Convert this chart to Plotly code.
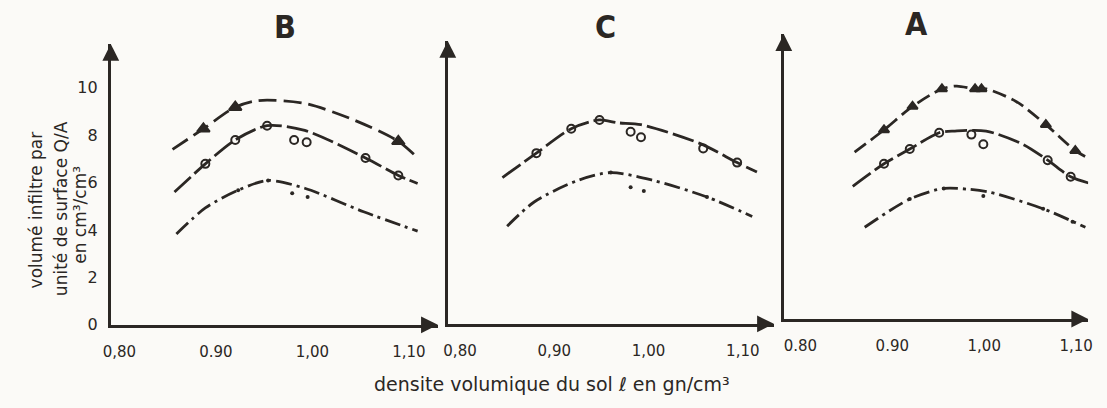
import plotly.graph_objects as go

INK = "#2b2724"
BG = "#fbfaf7"

# ---------------- data ----------------
# Panel B
b_tri_x = [0.855, 0.887, 0.920, 0.944, 0.992, 1.043, 1.089, 1.109]
b_tri_y = [7.40, 8.27, 9.18, 9.46, 9.34, 8.64, 7.74, 7.04]
b_tri_pts_x = [0.887, 0.920, 1.089]
b_tri_pts_y = [8.27, 9.18, 7.74]

b_cir_x = [0.857, 0.889, 0.920, 0.953, 0.992, 1.055, 1.089, 1.109]
b_cir_y = [5.60, 6.79, 7.80, 8.40, 8.20, 7.04, 6.30, 5.96]
b_cir_pts_x = [0.889, 0.920, 0.953, 0.981, 0.994, 1.055, 1.089]
b_cir_pts_y = [6.79, 7.80, 8.40, 7.80, 7.70, 7.04, 6.30]

b_dot_x = [0.859, 0.889, 0.923, 0.954, 0.992, 1.053, 1.109]
b_dot_y = [3.83, 4.93, 5.68, 6.09, 5.76, 4.77, 3.95]
b_dot_pts_x = [0.923, 0.954, 0.979, 0.995]
b_dot_pts_y = [5.68, 6.09, 5.55, 5.39]

# Panel C
c_cir_x = [0.845, 0.881, 0.918, 0.948, 0.967, 0.992, 1.055, 1.094, 1.115]
c_cir_y = [6.17, 7.20, 8.23, 8.60, 8.48, 8.40, 7.60, 6.80, 6.40]
c_cir_pts_x = [0.881, 0.918, 0.948, 0.981, 0.992, 1.058, 1.094]
c_cir_pts_y = [7.20, 8.23, 8.60, 8.10, 7.87, 7.40, 6.80]

c_dot_x = [0.850, 0.879, 0.925, 0.960, 1.005, 1.062, 1.110]
c_dot_y = [4.12, 5.15, 6.05, 6.38, 6.05, 5.35, 4.53]
c_dot_pts_x = [0.960, 0.981, 0.995, 1.062]
c_dot_pts_y = [6.38, 5.76, 5.60, 5.35]

# Panel A
a_tri_x = [0.859, 0.891, 0.922, 0.954, 0.970, 0.990, 1.002, 1.035, 1.067, 1.099, 1.110]
a_tri_y = [7.04, 7.98, 8.97, 9.71, 9.83, 9.71, 9.71, 9.17, 8.20, 7.10, 6.85]
a_tri_pts_x = [0.891, 0.922, 0.954, 0.990, 0.997, 1.067, 1.099]
a_tri_pts_y = [7.98, 8.97, 9.71, 9.71, 9.71, 8.20, 7.10]

a_cir_x = [0.857, 0.891, 0.919, 0.951, 0.968, 1.002, 1.042, 1.069, 1.094, 1.115]
a_cir_y = [5.60, 6.55, 7.17, 7.86, 7.93, 7.93, 7.37, 6.70, 6.00, 5.72]
a_cir_pts_x = [0.891, 0.919, 0.951, 0.986, 0.999, 1.069, 1.094]
a_cir_pts_y = [6.55, 7.17, 7.86, 7.78, 7.37, 6.70, 6.00]

a_dot_x = [0.870, 0.919, 0.956, 0.984, 1.006, 1.064, 1.110]
a_dot_y = [3.87, 5.06, 5.51, 5.47, 5.35, 4.65, 3.87]
a_dot_pts_x = [0.919, 0.956, 0.999, 1.064, 1.096]
a_dot_pts_y = [5.06, 5.51, 5.19, 4.65, 4.10]

y_ticks = [0, 2, 4, 6, 8, 10]
x_ticks = [0.80, 0.90, 1.00, 1.10]
x_labels_b = ["0,80", "0.90", "1,00", "1,10"]
x_labels_c = ["0,80", "0,90", "1,00", "1,10"]
x_labels_a = ["0.80", "0.90", "1,00", "1,10"]
panel_titles = ["B", "C", "A"]
y_title_lines = ["volumé infiltre par", "unité de surface Q/A", "en cm³/cm³"]
x_title = "densite volumique du sol ℓ en gn/cm³"

# ---------------- figure ----------------
W, H = 1107, 408
fig = go.Figure()

def line(x, y, dash, ax):
    fig.add_trace(go.Scatter(x=x, y=y, mode="lines",
                             line=dict(color=INK, width=2.8, dash=dash, shape="spline", smoothing=0.8),
                             xaxis="x" + ax, yaxis="y" + ax, showlegend=False, hoverinfo="skip"))

def pts(x, y, symbol, size, ax, lw=2):
    fig.add_trace(go.Scatter(x=x, y=y, mode="markers",
                             marker=dict(symbol=symbol, size=size, color=INK, line=dict(color=INK, width=lw)),
                             xaxis="x" + ax, yaxis="y" + ax, showlegend=False, hoverinfo="skip"))

# B -> axis "" (x, y)
line(b_tri_x, b_tri_y, "18px,7px", "")
pts(b_tri_pts_x, b_tri_pts_y, "triangle-up", 11, "")
line(b_cir_x, b_cir_y, "22px,5px", "")
pts(b_cir_pts_x, b_cir_pts_y, "circle-open", 8, "")
line(b_dot_x, b_dot_y, "16px,5px,3px,5px", "")
pts(b_dot_pts_x, b_dot_pts_y, "circle", 4, "", 0)

# C -> axis 2
line(c_cir_x, c_cir_y, "22px,5px", "2")
pts(c_cir_pts_x, c_cir_pts_y, "circle-open", 8, "2")
line(c_dot_x, c_dot_y, "16px,5px,3px,5px", "2")
pts(c_dot_pts_x, c_dot_pts_y, "circle", 4, "2", 0)

# A -> axis 3
line(a_tri_x, a_tri_y, "14px,6px", "3")
pts(a_tri_pts_x, a_tri_pts_y, "triangle-up", 9, "3")
line(a_cir_x, a_cir_y, "22px,5px", "3")
pts(a_cir_pts_x, a_cir_pts_y, "circle-open", 8, "3")
line(a_dot_x, a_dot_y, "16px,5px,3px,5px", "3")
pts(a_dot_pts_x, a_dot_pts_y, "circle", 4, "3", 0)

# panel geometry in pixels: (x_left, x_right, y_bottom, y_top, x_range, y_range)
panels = [
    (104, 435, 333, 45, [0.791, 1.130], [0, 11.85], x_labels_b, True),
    (445, 775, 332, 42, [0.787, 1.133], [0, 11.93], x_labels_c, False),
    (785, 1093, 327, 35, [0.782, 1.113], [0, 12.02], x_labels_a, False),
]
font_ax = dict(family="DejaVu Sans", size=15, color=INK)
annotations = []
for i, (xl, xr, yb, yt, xr_, yr_, labels, show_y) in enumerate(panels):
    sfx = "" if i == 0 else str(i + 1)
    xd = [xl / W, xr / W]
    yd = [1 - yb / H, 1 - yt / H]
    fig.layout["xaxis" + sfx] = dict(domain=xd, range=xr_, anchor="y" + sfx, showgrid=False, zeroline=False,
                                     showline=True, linecolor=INK, linewidth=2.8, ticks="",
                                     tickvals=x_ticks, ticktext=labels, tickfont=font_ax, ticklabelstandoff=11)
    fig.layout["yaxis" + sfx] = dict(domain=yd, range=yr_, anchor="x" + sfx, showgrid=False, zeroline=False,
                                     showline=True, linecolor=INK, linewidth=2.8, ticks="",
                                     tickvals=y_ticks if show_y else [], showticklabels=show_y,
                                     tickfont=dict(family="DejaVu Sans", size=16, color=INK), ticklabelstandoff=7)
    # arrow heads
    annotations.append(dict(xref="paper", yref="paper", x=xd[0], y=yd[1], ax=0, ay=14, text="",
                            showarrow=True, arrowhead=2, arrowsize=1.2, arrowwidth=2.8, arrowcolor=INK))
    annotations.append(dict(xref="paper", yref="paper", x=xd[1], y=yd[0], ax=-14, ay=0, text="",
                            showarrow=True, arrowhead=2, arrowsize=1.2, arrowwidth=2.8, arrowcolor=INK))

# panel titles
for t, (px, py) in zip(panel_titles, [(280, 28), (605, 28), (919, 25)]):
    annotations.append(dict(xref="paper", yref="paper", x=px / W, y=1 - py / H, text="<b>" + t + "</b>",
                            xanchor="center", yanchor="middle", showarrow=False,
                            font=dict(family="Liberation Sans Narrow, DejaVu Sans Condensed", size=32, color=INK)))

# y-axis title lines
for t, (px, py) in zip(y_title_lines, [(28, 215), (53, 214), (72, 220)]):
    annotations.append(dict(xref="paper", yref="paper", x=px / W, y=1 - py / H, text=t, textangle=-90,
                            xanchor="center", yanchor="middle", showarrow=False,
                            font=dict(family="DejaVu Sans", size=17, color=INK)))

# x-axis title
annotations.append(dict(xref="paper", yref="paper", x=550 / W, y=1 - 394 / H,
                        xanchor="center", yanchor="middle", text=x_title, showarrow=False,
                        font=dict(family="DejaVu Sans", size=19, color=INK)))

fig.update_layout(width=W, height=H, autosize=False, margin=dict(l=0, r=0, t=0, b=0),
                  paper_bgcolor=BG, plot_bgcolor="rgba(0,0,0,0)", annotations=annotations)

fig.write_html("out.html", config={"responsive": False, "displayModeBar": False},
               post_script="document.body.style.margin='0';document.body.style.overflow='hidden';"
                           "document.body.style.background='" + BG + "';")
